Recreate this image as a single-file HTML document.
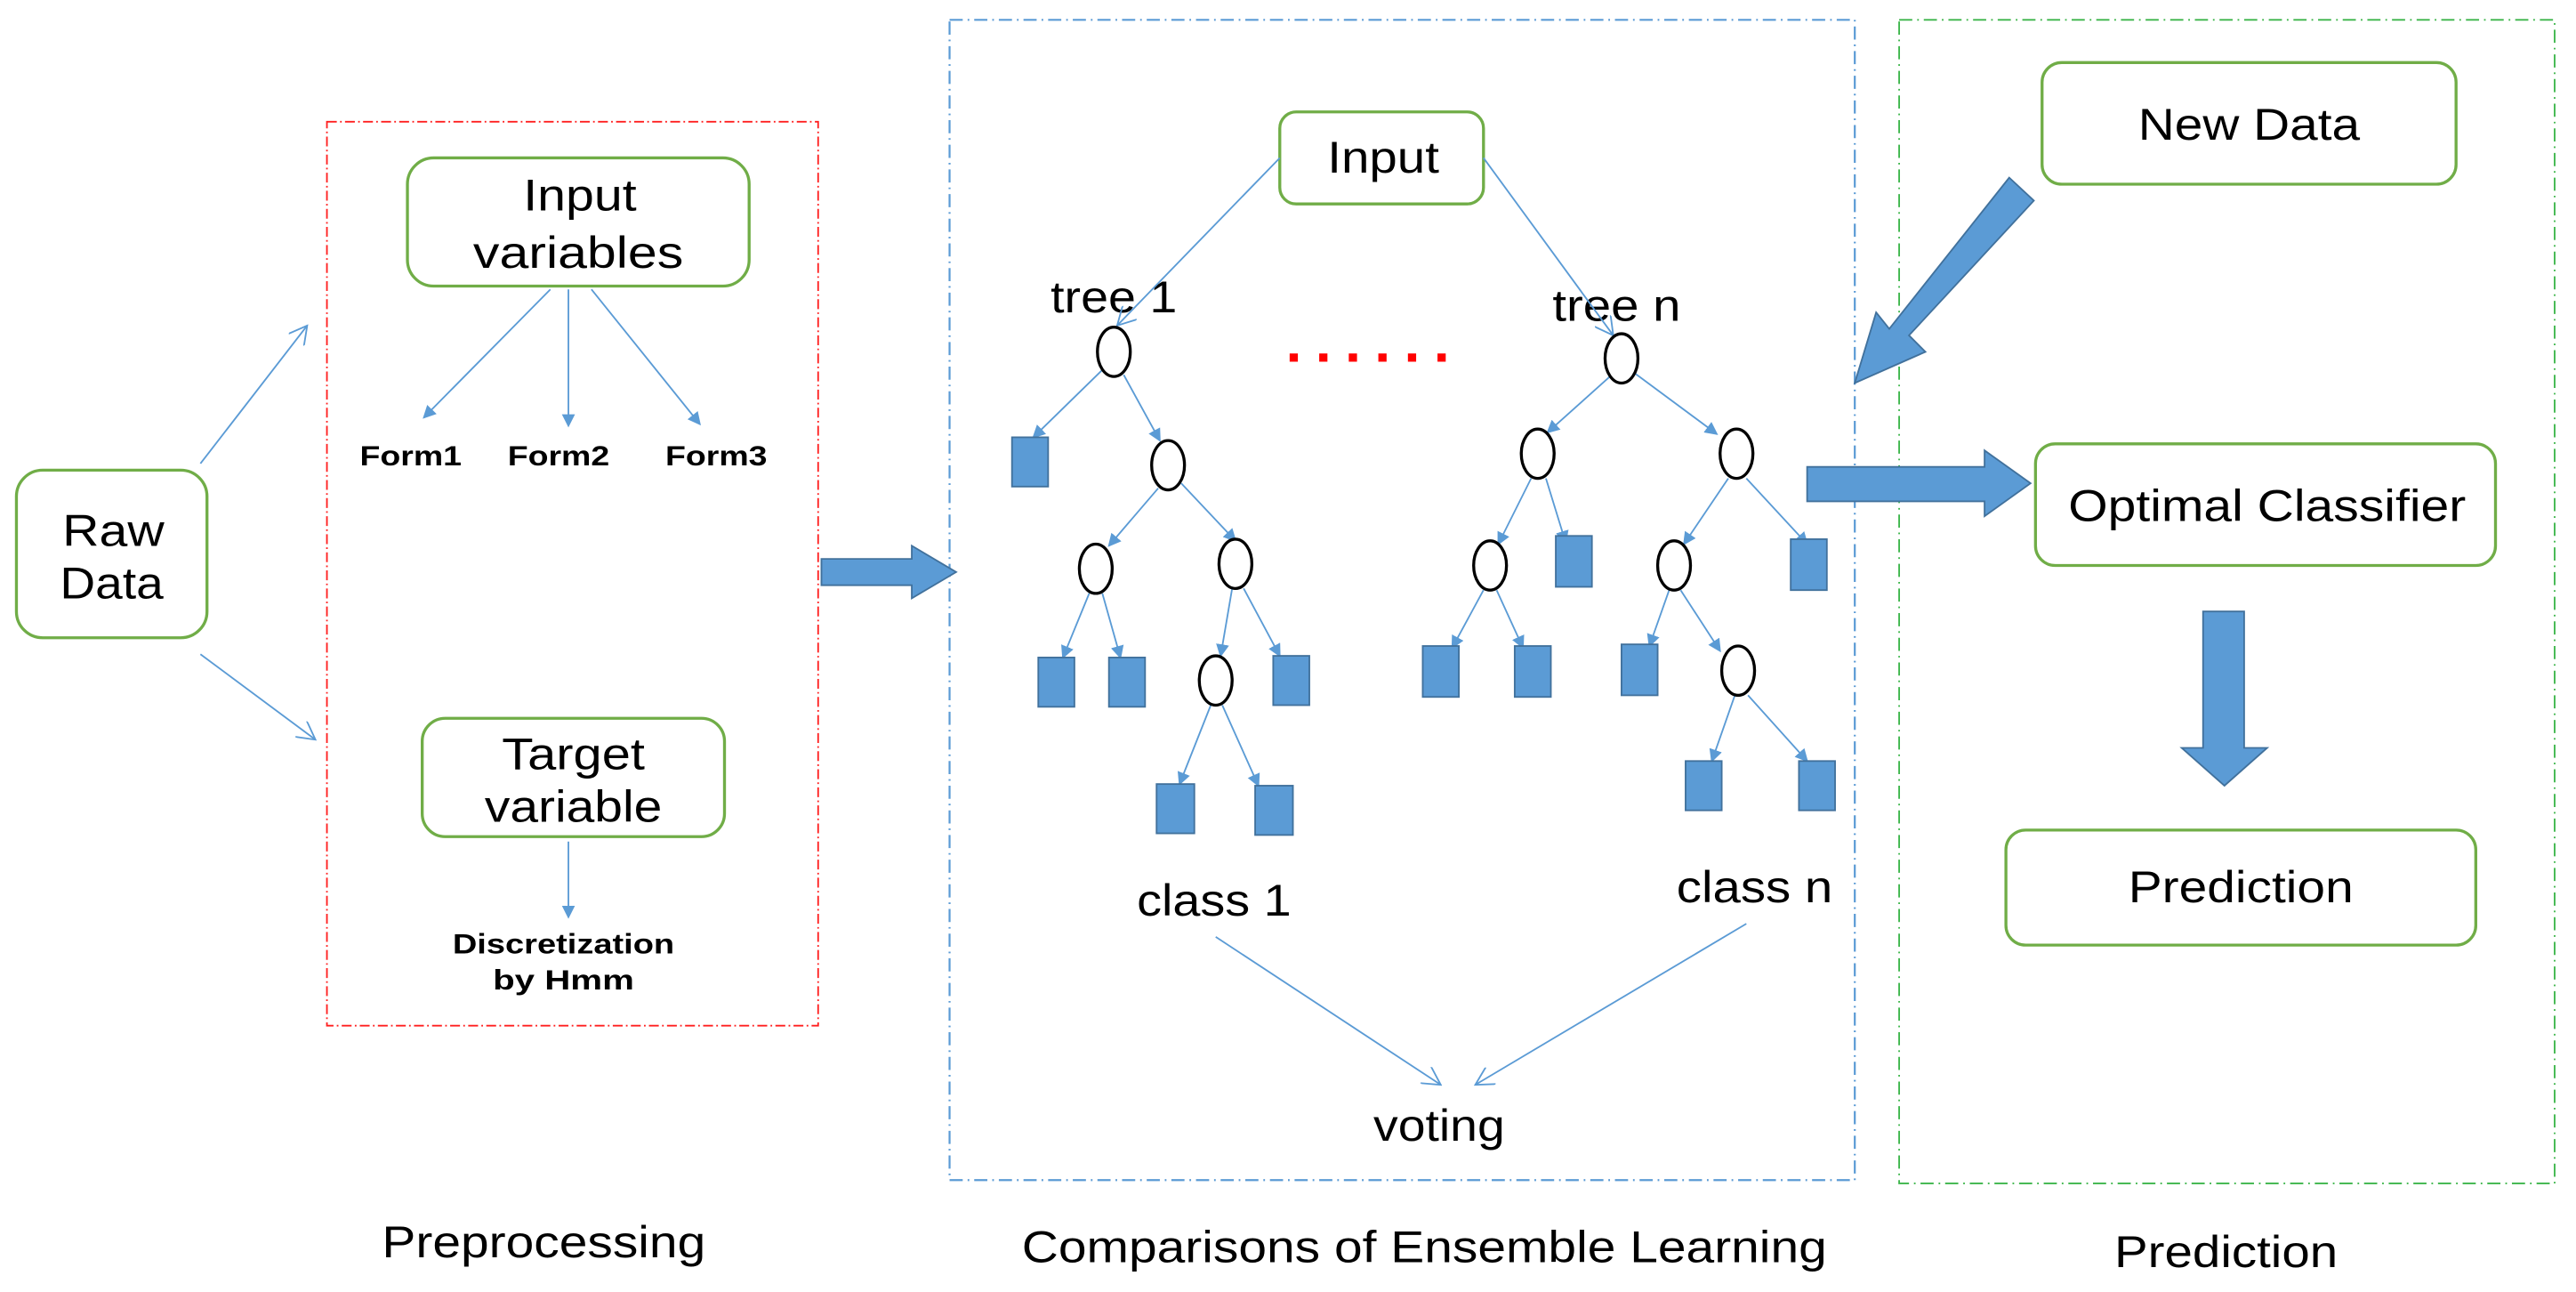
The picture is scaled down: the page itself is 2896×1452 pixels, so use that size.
<!DOCTYPE html>
<html><head><meta charset="utf-8"><style>
html,body{margin:0;padding:0;background:#fff;}
svg{display:block;}
text{font-family:"Liberation Sans",sans-serif;fill:#000;}
</style></head><body>
<svg width="2896" height="1452" viewBox="0 0 1568 786" xmlns="http://www.w3.org/2000/svg">
<defs>
<marker id="a" markerWidth="8" markerHeight="8" refX="7" refY="4" orient="auto" markerUnits="userSpaceOnUse"><path d="M0,0 L8,4 L0,8 z" fill="#5b9bd5"/></marker>
<marker id="o" markerWidth="12" markerHeight="12" refX="11" refY="6" orient="auto" markerUnits="userSpaceOnUse"><path d="M0,0 L11,6 L0,12" fill="none" stroke="#5b9bd5" stroke-width="1"/></marker>
</defs>
<rect width="1568" height="786" fill="#fff"/>
<rect x="199" y="74" width="299" height="550" fill="none" stroke="#ff2020" stroke-width="1" stroke-dasharray="6,2,1,2"/>
<rect x="578" y="12" width="551" height="706" fill="none" stroke="#5b9bd5" stroke-width="1.2" stroke-dasharray="8,3,1,3"/>
<rect x="1156" y="12" width="399" height="708" fill="none" stroke="#3cb54a" stroke-width="1" stroke-dasharray="8,3,1,3"/>
<g fill="#fff" stroke="#70ad47" stroke-width="1.8">
<rect x="10" y="286" width="116" height="102" rx="16"/>
<rect x="248" y="96" width="208" height="78" rx="16"/>
<rect x="257" y="437" width="184" height="72" rx="14"/>
<rect x="779" y="68" width="124" height="56" rx="10"/>
<rect x="1243" y="38" width="252" height="74" rx="12"/>
<rect x="1239" y="270" width="280" height="74" rx="12"/>
<rect x="1221" y="505" width="286" height="70" rx="12"/>
</g>
<g font-size="27" text-anchor="middle" lengthAdjust="spacingAndGlyphs">
<text x="69" y="332" textLength="62" lengthAdjust="spacingAndGlyphs">Raw</text>
<text x="68" y="364" textLength="63" lengthAdjust="spacingAndGlyphs">Data</text>
<text x="353" y="128" textLength="69" lengthAdjust="spacingAndGlyphs">Input</text>
<text x="352" y="163" textLength="128" lengthAdjust="spacingAndGlyphs">variables</text>
<text x="349" y="468" textLength="87" lengthAdjust="spacingAndGlyphs">Target</text>
<text x="349" y="500" textLength="108" lengthAdjust="spacingAndGlyphs">variable</text>
<text x="842" y="105" textLength="68" lengthAdjust="spacingAndGlyphs">Input</text>
<text x="1369" y="85" textLength="135" lengthAdjust="spacingAndGlyphs">New Data</text>
<text x="1380" y="317" textLength="242" lengthAdjust="spacingAndGlyphs">Optimal Classifier</text>
<text x="1364" y="549" textLength="137" lengthAdjust="spacingAndGlyphs">Prediction</text>
<text x="678" y="190" textLength="77" lengthAdjust="spacingAndGlyphs">tree 1</text>
<text x="984" y="195" textLength="78" lengthAdjust="spacingAndGlyphs">tree n</text>
<text x="739" y="557" textLength="94" lengthAdjust="spacingAndGlyphs">class 1</text>
<text x="1068" y="549" textLength="95" lengthAdjust="spacingAndGlyphs">class n</text>
<text x="876" y="694" textLength="80" lengthAdjust="spacingAndGlyphs">voting</text>
<text x="331" y="765" textLength="197" lengthAdjust="spacingAndGlyphs">Preprocessing</text>
<text x="867" y="768" textLength="490" lengthAdjust="spacingAndGlyphs">Comparisons of Ensemble Learning</text>
<text x="1355" y="771" textLength="136" lengthAdjust="spacingAndGlyphs">Prediction</text>
</g>
<g font-size="17" font-weight="bold" text-anchor="middle">
<text x="250" y="283" textLength="62" lengthAdjust="spacingAndGlyphs">Form1</text>
<text x="340" y="283" textLength="62" lengthAdjust="spacingAndGlyphs">Form2</text>
<text x="436" y="283" textLength="62" lengthAdjust="spacingAndGlyphs">Form3</text>
<text x="343" y="580" textLength="135" lengthAdjust="spacingAndGlyphs">Discretization</text>
<text x="343" y="602" textLength="86" lengthAdjust="spacingAndGlyphs">by Hmm</text>
</g>
<g stroke="#5b9bd5" stroke-width="1" fill="none" marker-end="url(#o)">
<line x1="122" y1="282" x2="187" y2="198"/>
<line x1="122" y1="398" x2="192" y2="450"/>
<line x1="779" y1="96" x2="680" y2="198"/>
<line x1="903" y1="96" x2="982" y2="204"/>
<line x1="740" y1="570" x2="877" y2="660"/>
<line x1="1063" y1="562" x2="898" y2="660"/>
</g>
<g stroke="#5b9bd5" stroke-width="1" fill="none" marker-end="url(#a)">
<line x1="335" y1="176" x2="258" y2="254"/>
<line x1="346" y1="176" x2="346" y2="259"/>
<line x1="360" y1="176" x2="426" y2="258"/>
<line x1="346" y1="512" x2="346" y2="558"/>
<line x1="671" y1="225" x2="629" y2="266"/>
<line x1="684" y1="228" x2="706" y2="268"/>
<line x1="705" y1="297" x2="675" y2="332"/>
<line x1="719" y1="294" x2="752" y2="329"/>
<line x1="663" y1="361" x2="647" y2="400"/>
<line x1="671" y1="361" x2="682" y2="400"/>
<line x1="750" y1="358" x2="743" y2="399"/>
<line x1="757" y1="358" x2="779" y2="399"/>
<line x1="737" y1="429" x2="718" y2="477"/>
<line x1="744" y1="429" x2="766" y2="478"/>
<line x1="980" y1="229" x2="942" y2="263"/>
<line x1="995" y1="227" x2="1045" y2="264"/>
<line x1="932" y1="291" x2="912" y2="331"/>
<line x1="941" y1="291" x2="953" y2="330"/>
<line x1="1052" y1="291" x2="1025" y2="331"/>
<line x1="1063" y1="291" x2="1100" y2="331"/>
<line x1="903" y1="359" x2="884" y2="394"/>
<line x1="911" y1="359" x2="927" y2="394"/>
<line x1="1016" y1="359" x2="1004" y2="393"/>
<line x1="1023" y1="359" x2="1047" y2="396"/>
<line x1="1056" y1="423" x2="1042" y2="463"/>
<line x1="1064" y1="423" x2="1100" y2="463"/>
</g>
<g fill="#fff" stroke="#000" stroke-width="1.8">
<ellipse cx="678" cy="214" rx="10" ry="15"/>
<ellipse cx="711" cy="283" rx="10" ry="15"/>
<ellipse cx="667" cy="346" rx="10" ry="15"/>
<ellipse cx="752" cy="343" rx="10" ry="15"/>
<ellipse cx="740" cy="414" rx="10" ry="15"/>
<ellipse cx="987" cy="218" rx="10" ry="15"/>
<ellipse cx="936" cy="276" rx="10" ry="15"/>
<ellipse cx="1057" cy="276" rx="10" ry="15"/>
<ellipse cx="907" cy="344" rx="10" ry="15"/>
<ellipse cx="1019" cy="344" rx="10" ry="15"/>
<ellipse cx="1058" cy="408" rx="10" ry="15"/>
</g>
<g fill="#5b9bd5" stroke="#41719c" stroke-width="1">
<rect x="616" y="266" width="22" height="30"/>
<rect x="632" y="400" width="22" height="30"/>
<rect x="675" y="400" width="22" height="30"/>
<rect x="775" y="399" width="22" height="30"/>
<rect x="704" y="477" width="23" height="30"/>
<rect x="764" y="478" width="23" height="30"/>
<rect x="866" y="393" width="22" height="31"/>
<rect x="922" y="393" width="22" height="31"/>
<rect x="947" y="326" width="22" height="31"/>
<rect x="987" y="392" width="22" height="31"/>
<rect x="1090" y="328" width="22" height="31"/>
<rect x="1026" y="463" width="22" height="30"/>
<rect x="1095" y="463" width="22" height="30"/>
</g>
<g fill="#ff0000">
<rect x="785" y="215" width="5" height="5"/><rect x="803" y="215" width="5" height="5"/><rect x="821" y="215" width="5" height="5"/><rect x="839" y="215" width="5" height="5"/><rect x="857" y="215" width="5" height="5"/><rect x="875" y="215" width="5" height="5"/>
</g>
<g fill="#5b9bd5" stroke="#41719c" stroke-width="1">
<polygon points="500,340 555,340 555,332 582,348 555,364 555,356 500,356"/>
<polygon points="1100,284 1208,284 1208,274 1236,294 1208,314 1208,305 1100,305"/>
<polygon points="1341,372 1366,372 1366,455 1380,455 1354,478 1328,455 1341,455"/>
<polygon points="1223,108 1238,122 1162,204 1172,214 1129,233 1142,190 1150,200"/>
</g>
</svg>
</body></html>
